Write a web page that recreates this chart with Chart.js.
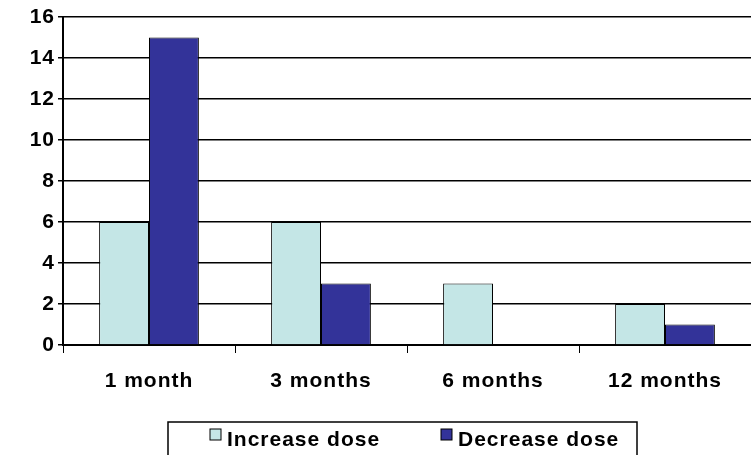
<!DOCTYPE html>
<html><head><meta charset="utf-8">
<script src="https://cdn.jsdelivr.net/npm/chart.js@4"></script>
<style>html,body{margin:0;padding:0;background:#fff}</style>
</head><body>
<canvas id="c" width="751" height="455"></canvas>
<script>
const categories = ['1 month', '3 months', '6 months', '12 months'];
const increaseDose = [6, 6, 3, 2];
const decreaseDose = [15, 3, 0, 1];

// the original text is wide, so space the letters out a little
const wideText = {
    id: 'wideText',
    beforeDraw(chart) { chart.ctx.letterSpacing = '1px'; }
};

// legend drawn by hand inside a framed box, like the original
const legendBox = {
    id: 'legendBox',
    afterDraw(chart) {
        const ctx = chart.ctx;
        ctx.save();
        ctx.letterSpacing = '1px';
        ctx.strokeStyle = '#000';
        ctx.lineWidth = 1.5;
        ctx.strokeRect(168, 422, 469, 34);
        ctx.font = 'bold 21px Arial, "Liberation Sans"';
        ctx.textBaseline = 'middle';
        let x = 210;
        chart.data.datasets.forEach(ds => {
            ctx.fillStyle = ds.backgroundColor;
            ctx.fillRect(x, 429, 11, 11);
            ctx.lineWidth = 1;
            ctx.strokeRect(x, 429, 11, 11);
            ctx.fillStyle = '#000';
            ctx.fillText(ds.label, x + 17, 440);
            x += 231;
        });
        ctx.restore();
    }
};

new Chart(document.getElementById('c'), {
    type: 'bar',
    data: {
        labels: categories,
        datasets: [
            { label: 'Increase dose', data: increaseDose, backgroundColor: '#c4e6e6', borderColor: '#000', borderWidth: 1 },
            { label: 'Decrease dose', data: decreaseDose, backgroundColor: '#333399', borderColor: '#000', borderWidth: 1 }
        ]
    },
    options: {
        responsive: false,
        animation: false,
        layout: { padding: { top: 17, right: 0, left: 0, bottom: 33 } },
        datasets: { bar: { barPercentage: 1, categoryPercentage: 0.58 } },
        plugins: {
            tooltip: { enabled: false },
            legend: { display: false }
        },
        scales: {
            x: {
                afterFit(s) { s.height = 77; },
                grid: { display: true, drawOnChartArea: false, color: '#000', tickLength: 8, offset: true },
                border: { color: '#000', width: 2 },
                ticks: { color: '#000', padding: 16, font: { family: 'Arial, Liberation Sans', size: 21, weight: 'bold' } }
            },
            y: {
                min: 0, max: 16,
                afterFit(s) { s.width = 63; },
                grid: { color: '#000', lineWidth: 1.5, tickLength: 5 },
                border: { color: '#000', width: 2 },
                ticks: { stepSize: 2, color: '#000', padding: 3, font: { family: 'Arial, Liberation Sans', size: 21, weight: 'bold' } }
            }
        }
    },
    plugins: [wideText, legendBox]
});
</script>
</body></html>
